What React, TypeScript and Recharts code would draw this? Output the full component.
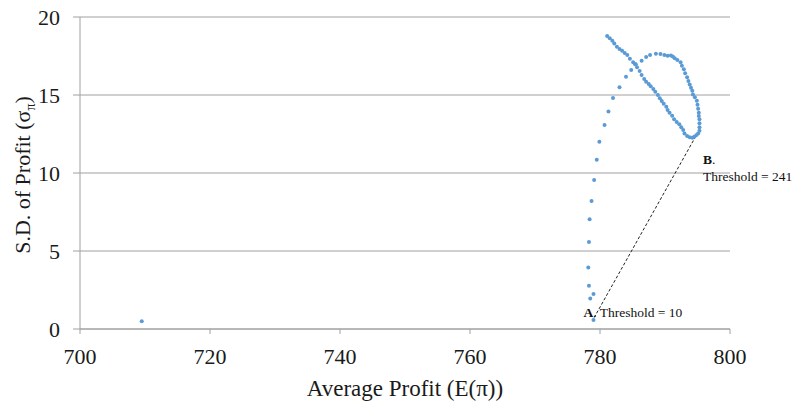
import {
  CartesianGrid,
  ReferenceDot,
  ReferenceLine,
  Scatter,
  ScatterChart,
  XAxis,
  YAxis,
  Label,
} from 'recharts'

// E(π) and σπ for each threshold setting, in sweep order
const avgProfit = [
  709.5, 779.0, 778.5, 779.0, 778.3, 778.2, 778.3, 778.4, 778.7, 779.1, 779.5, 779.9, 780.7, 781.3,
  782.0, 783.0, 784.0, 784.8, 785.5, 786.4, 787.1, 787.7, 788.6, 789.3, 789.9, 790.4, 790.9, 791.2,
  791.5, 791.9, 792.4, 792.6, 792.9, 793.1, 793.4, 793.6, 793.8, 794.0, 794.2, 794.3, 794.6, 794.9,
  795.0, 795.1, 795.2, 795.2, 795.3, 795.3, 795.3, 795.3, 795.1, 794.8, 794.5, 794.2, 793.8, 793.4,
  793.0, 792.8, 792.5, 792.2, 791.8, 791.4, 791.1, 790.7, 790.4, 790.2, 789.8, 789.5, 789.2, 788.9,
  788.5, 788.2, 787.8, 787.5, 787.1, 786.8, 786.4, 786.1, 785.7, 785.4, 785.1, 784.6, 784.2, 783.8,
  783.4, 783.0, 782.6, 782.2, 781.9, 781.5, 781.1,
]
const sdProfit = [
  0.5, 0.58, 1.95, 2.24, 2.78, 3.95, 5.58, 7.03, 8.2, 9.55, 10.85, 12.0, 13.08, 13.95,
  14.8, 15.5, 16.17, 16.6, 16.97, 17.2, 17.44, 17.56, 17.65, 17.63, 17.56, 17.52, 17.53, 17.46,
  17.35, 17.24, 17.1, 16.88, 16.65, 16.39, 16.13, 15.9, 15.68, 15.47, 15.28, 15.04, 14.85, 14.63,
  14.38, 14.12, 13.87, 13.65, 13.44, 13.19, 12.93, 12.71, 12.54, 12.42, 12.33, 12.26, 12.29, 12.37,
  12.54, 12.76, 12.93, 13.12, 13.27, 13.44, 13.67, 13.87, 14.04, 14.25, 14.44, 14.62, 14.79, 15.0,
  15.21, 15.38, 15.56, 15.7, 15.85, 16.03, 16.28, 16.54, 16.78, 16.97, 17.1, 17.33, 17.56, 17.7,
  17.84, 17.95, 18.1, 18.3, 18.48, 18.63, 18.78,
]

const xTicks = [700, 720, 740, 760, 780, 800]
const yTicks = [0, 5, 10, 15, 20]

// the two highlighted thresholds
const pointA = { x: 779.0, y: 0.58, threshold: 10 }
const pointB = { x: 795.3, y: 12.7, threshold: 241 }

const points = avgProfit.map((x, i) => ({ x, y: sdProfit[i] }))

const FONT = 'Liberation Serif, serif'
const GRID = '#a0a0a0'
const DOT = '#5b9bd5'
const INK = '#1a1a1a'

const Dot = (p: any) => <circle cx={p.cx} cy={p.cy} r={2} fill={DOT} />

const XTick = (p: any) => (
  <text x={p.x} y={p.y} dy="0.71em" textAnchor="middle" fontSize={22} fill={INK} fontFamily={FONT}>
    {p.payload.value}
  </text>
)

const YTick = (p: any) => (
  <text x={p.x} y={p.y} dy="0.355em" textAnchor="end" fontSize={22} fill={INK} fontFamily={FONT}>
    {p.payload.value}
  </text>
)

export default function App() {
  return (
    <div>
      <style>{'body{margin:0}'}</style>
      <ScatterChart width={796} height={405} margin={{ top: 17, right: 66, bottom: 0, left: 0 }}>
        <CartesianGrid vertical={false} stroke={GRID} />
        <XAxis
          type="number"
          dataKey="x"
          domain={[700, 800]}
          ticks={xTicks}
          height={76}
          stroke={GRID}
          tickSize={5}
          tickMargin={14}
          tick={XTick}
        >
          <Label
            position="insideBottom"
            content={(p: any) => (
              <text
                x={p.viewBox.x + p.viewBox.width / 2}
                y={p.viewBox.y + p.viewBox.height - 9}
                textAnchor="middle"
                fontSize={23}
                fill={INK}
                fontFamily={FONT}
              >
                Average Profit (E(π))
              </text>
            )}
          />
        </XAxis>
        <YAxis
          type="number"
          dataKey="y"
          domain={[0, 20]}
          ticks={yTicks}
          width={80}
          stroke={GRID}
          tickSize={7}
          tickMargin={13}
          tick={YTick}
          label={{
            content: () => (
              <text
                x={30}
                y={175}
                transform="rotate(-90, 30, 175)"
                textAnchor="middle"
                fontSize={22}
                fill={INK}
                fontFamily={FONT}
              >
                S.D. of Profit (σ
                <tspan fontSize={14} dy={5}>π</tspan>
                <tspan dy={-5}>)</tspan>
              </text>
            ),
          }}
        />
        <Scatter data={points} shape={Dot} isAnimationActive={false} />
        <ReferenceLine
          segment={[
            { x: pointA.x + 0.1, y: pointA.y + 0.15 },
            { x: pointB.x - 0.1, y: pointB.y },
          ]}
          stroke="#222"
          strokeDasharray="3 2"
          strokeWidth={1}
        />
        <ReferenceDot
          x={pointA.x}
          y={pointA.y}
          r={0}
          shape={(p: any) => (
            <text x={p.cx - 10} y={p.cy - 3} fontSize={13.5} fill="#111" fontFamily={FONT}>
              <tspan fontWeight="bold">A</tspan>. Threshold = {pointA.threshold}
            </text>
          )}
        />
        <ReferenceDot
          x={pointB.x}
          y={pointB.y}
          r={0}
          shape={(p: any) => (
            <text x={p.cx + 3.5} y={p.cy + 33} fontSize={13.5} fill="#111" fontFamily={FONT}>
              <tspan fontWeight="bold">B</tspan>.
              <tspan x={p.cx + 3.5} dy={17}>
                Threshold = {pointB.threshold}
              </tspan>
            </text>
          )}
        />
      </ScatterChart>
    </div>
  )
}
